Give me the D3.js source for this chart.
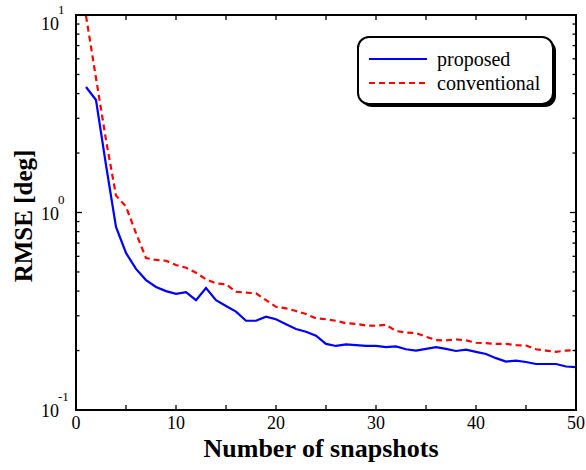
<!DOCTYPE html>
<html>
<head>
<meta charset="utf-8">
<script src="https://cdn.jsdelivr.net/npm/d3@7"></script>
<style>
  body { margin: 0; background: #fff; }
  svg { display: block; }
  text { font-family: "Liberation Serif", "Times New Roman", serif; fill: #000; }
</style>
</head>
<body>
<svg id="chart"></svg>
<script>
// data
var snapshots = [1, 2, 3, 4, 5, 6, 7, 8, 9, 10, 11, 12, 13, 14, 15, 16, 17, 18, 19, 20,
  21, 22, 23, 24, 25, 26, 27, 28, 29, 30, 31, 32, 33, 34, 35, 36, 37, 38, 39, 40,
  41, 42, 43, 44, 45, 46, 47, 48, 49, 50];

var proposed = [4.32, 3.71, 1.74, 0.845, 0.624, 0.518, 0.455, 0.42, 0.40, 0.387,
  0.395, 0.36, 0.415, 0.36, 0.336, 0.315, 0.283, 0.283, 0.297, 0.288,
  0.272, 0.257, 0.249, 0.238, 0.216, 0.211, 0.215, 0.213, 0.211, 0.211,
  0.208, 0.21, 0.203, 0.2, 0.204, 0.208, 0.204, 0.199, 0.202, 0.197,
  0.192, 0.183, 0.176, 0.178, 0.175, 0.171, 0.171, 0.171, 0.166, 0.165];

var conventional = [9.9, 4.8, 2.33, 1.22, 1.07, 0.786, 0.588, 0.575, 0.57, 0.542,
  0.525, 0.496, 0.459, 0.438, 0.433, 0.397, 0.393, 0.39, 0.36, 0.333,
  0.327, 0.317, 0.306, 0.291, 0.288, 0.283, 0.275, 0.273, 0.268, 0.267,
  0.27, 0.251, 0.247, 0.245, 0.235, 0.226, 0.225, 0.228, 0.225, 0.219,
  0.218, 0.216, 0.216, 0.213, 0.212, 0.203, 0.2, 0.197, 0.2, 0.201];

var xTicks = [0, 5, 10, 15, 20, 25, 30, 35, 40, 45, 50];
var xTickLabels = [0, 10, 20, 30, 40, 50];
var yMajor = [0.1, 1, 10];
var yExponents = ["-1", "0", "1"];

var series = [
  { name: "proposed", values: proposed, color: "#0000ff", dash: null },
  { name: "conventional", values: conventional, color: "#ff0000", dash: "6,4" },
];

var width = 586,
  height = 470;
var margin = { top: 15, right: 10, bottom: 60, left: 76 };

var svg = d3.select("svg#chart").attr("width", width).attr("height", height);

var x = d3.scaleLinear().domain([0, 50]).range([margin.left, width - margin.right]);
var y = d3.scaleLog().domain([0.1, 10]).range([height - margin.bottom, margin.top]);

var x0 = x.range()[0], x1 = x.range()[1];
var yb = y.range()[0], yt = y.range()[1];

// minor log ticks 2..9 for each decade
var yMinor = [];
[0.1, 1].forEach(function (d) {
  for (var k = 2; k <= 9; k++) yMinor.push(d * k);
});

svg.append("clipPath").attr("id", "plot-clip")
  .append("rect")
  .attr("x", x0).attr("y", yt)
  .attr("width", x1 - x0).attr("height", yb - yt);

// curves
var line = d3.line()
  .x(function (d, i) { return x(snapshots[i]); })
  .y(function (d) { return y(d); });

var curves = svg.append("g").attr("clip-path", "url(#plot-clip)");
series.forEach(function (s) {
  curves.append("path")
    .attr("d", line(s.values))
    .attr("fill", "none")
    .attr("stroke", s.color)
    .attr("stroke-width", 2.2)
    .attr("stroke-dasharray", s.dash);
});

// ticks (inward, on all four sides)
var ticks = svg.append("g").attr("stroke", "#000").attr("stroke-width", 1.3);
xTicks.forEach(function (t) {
  ticks.append("line").attr("x1", x(t)).attr("x2", x(t)).attr("y1", yb).attr("y2", yb - 5);
  ticks.append("line").attr("x1", x(t)).attr("x2", x(t)).attr("y1", yt).attr("y2", yt + 5);
});
yMajor.forEach(function (t) {
  ticks.append("line").attr("x1", x0).attr("x2", x0 + 6).attr("y1", y(t)).attr("y2", y(t));
  ticks.append("line").attr("x1", x1).attr("x2", x1 - 6).attr("y1", y(t)).attr("y2", y(t));
});
yMinor.forEach(function (t) {
  ticks.append("line").attr("x1", x0).attr("x2", x0 + 3.5).attr("y1", y(t)).attr("y2", y(t));
  ticks.append("line").attr("x1", x1).attr("x2", x1 - 3.5).attr("y1", y(t)).attr("y2", y(t));
});

// frame
svg.append("rect")
  .attr("x", x0).attr("y", yt)
  .attr("width", x1 - x0).attr("height", yb - yt)
  .attr("fill", "none")
  .attr("stroke", "#000")
  .attr("stroke-width", 2);

// x tick labels
svg.append("g").selectAll("text")
  .data(xTickLabels)
  .enter()
  .append("text")
  .attr("x", function (d) { return x(d); })
  .attr("y", yb + 19)
  .attr("text-anchor", "middle")
  .attr("font-size", 18)
  .text(function (d) { return d; });

// y tick labels: 10 with superscript exponent
svg.append("g").selectAll("text")
  .data(yMajor)
  .enter()
  .append("text")
  .attr("x", x0 - 17)
  .attr("y", function (d) { return Math.max(y(d) + 7, 30); })
  .attr("text-anchor", "end")
  .attr("font-size", 18)
  .text("10");

svg.append("g").selectAll("text")
  .data(yMajor)
  .enter()
  .append("text")
  .attr("x", x0 - 18)
  .attr("y", function (d, i) { return Math.max(y(d) + 7, 30) - 16; })
  .attr("font-size", 13)
  .text(function (d, i) { return yExponents[i]; });

// axis titles
svg.append("text")
  .attr("x", 321)
  .attr("y", 457)
  .attr("text-anchor", "middle")
  .attr("font-size", 26)
  .attr("font-weight", "bold")
  .text("Number of snapshots");

svg.append("text")
  .attr("transform", "translate(32,216) rotate(-90)")
  .attr("text-anchor", "middle")
  .attr("font-size", 25)
  .attr("font-weight", "bold")
  .text("RMSE [deg]");

// legend
var lg = svg.append("g").attr("transform", "translate(358,37)");
lg.append("rect")
  .attr("x", 3).attr("y", 3)
  .attr("width", 195).attr("height", 67)
  .attr("rx", 11)
  .attr("fill", "#000");
lg.append("rect")
  .attr("x", 0).attr("y", 0)
  .attr("width", 195).attr("height", 67)
  .attr("rx", 11)
  .attr("fill", "#fff")
  .attr("stroke", "#000")
  .attr("stroke-width", 2);

series.forEach(function (s, i) {
  var ly = 22 + i * 24;
  lg.append("line")
    .attr("x1", 11).attr("x2", 69)
    .attr("y1", ly).attr("y2", ly)
    .attr("stroke", s.color)
    .attr("stroke-width", 2.2)
    .attr("stroke-dasharray", s.dash);
  lg.append("text")
    .attr("x", 79)
    .attr("y", ly + 7)
    .attr("font-size", 20)
    .text(s.name);
});
</script>
</body>
</html>
